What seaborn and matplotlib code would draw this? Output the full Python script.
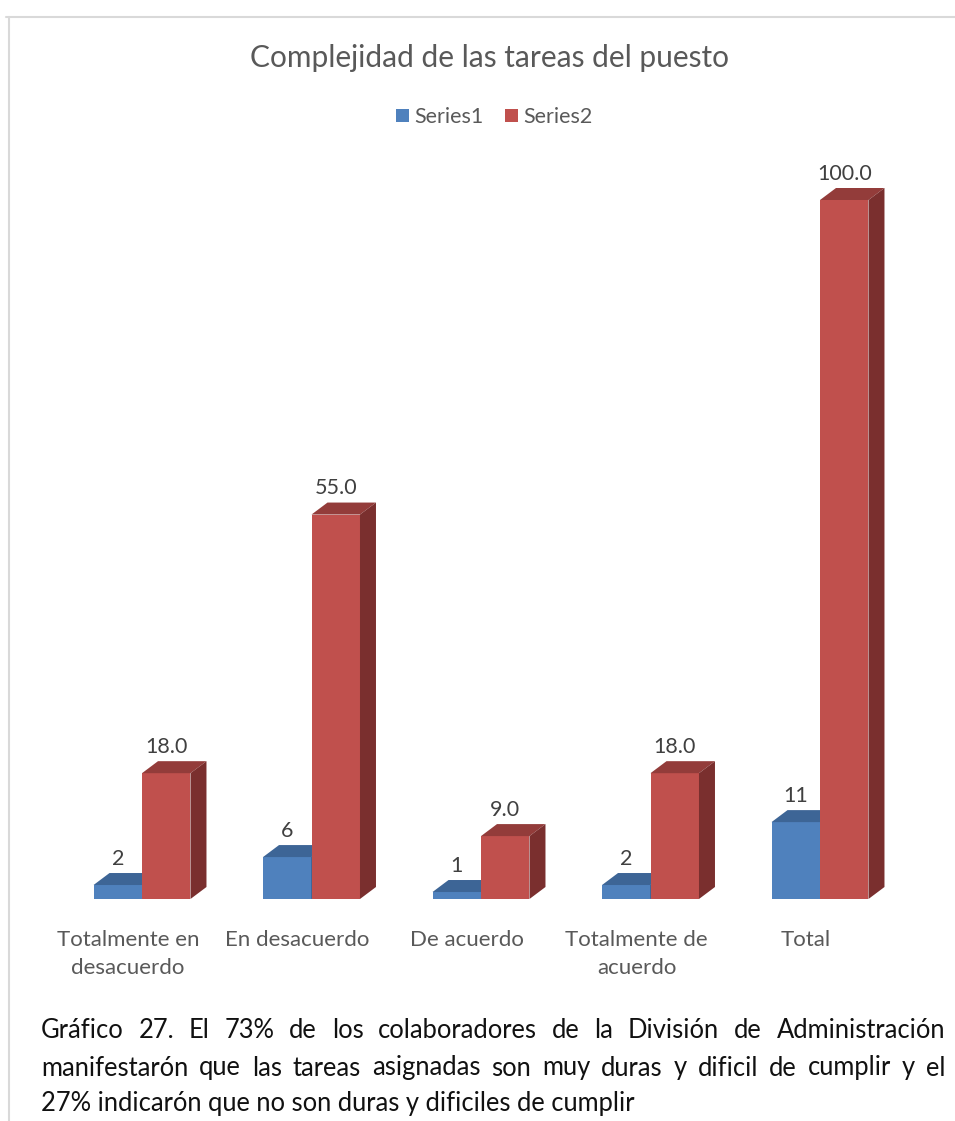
import numpy as np
import pandas as pd
import matplotlib
matplotlib.use("Agg")
import matplotlib.pyplot as plt
import seaborn as sns
from matplotlib.patches import Polygon, Patch
from matplotlib.transforms import ScaledTranslation
from matplotlib.lines import Line2D

# ---- data ----
categories = ["Totalmente en\ndesacuerdo", "En desacuerdo", "De acuerdo",
              "Totalmente de\nacuerdo", "Total"]
series_names = ["Series1", "Series2"]
series1 = [2, 6, 1, 2, 11]
series2 = [18.0, 55.0, 9.0, 18.0, 100.0]
title = "Complejidad de las tareas del puesto"
caption_lines = [
    "Gráfico 27. El 73% de los colaboradores de la División de Administración",
    "manifestarón que las tareas asignadas son muy duras y dificil de cumplir y el",
    "27% indicarón que no son duras y dificiles de cumplir",
]

df = pd.DataFrame({
    "categoria": categories * 2,
    "valor": series1 + series2,
    "serie": [series_names[0]] * len(categories) + [series_names[1]] * len(categories),
})

front = {"Series1": "#4F81BD", "Series2": "#C0504D"}
top_c = {"Series1": "#3D6596", "Series2": "#933C3A"}
side_c = {"Series1": "#2F4F77", "Series2": "#7A2F2E"}

sns.set_theme(style="white")
plt.rcParams["font.family"] = ["Lato", "DejaVu Sans"]

W, H, DPI = 955, 1121, 100
fig = plt.figure(figsize=(W / DPI, H / DPI), dpi=DPI)

# plot area in pixel coordinates
ax_l, ax_r, ax_base, ax_top = 40, 935, 899, 150
ax = fig.add_axes([ax_l / W, (H - ax_base) / H, (ax_r - ax_l) / W, (ax_base - ax_top) / H])

sns.barplot(data=df, x="categoria", y="valor", hue="serie", order=categories,
            hue_order=series_names, palette=[front[s] for s in series_names],
            width=0.572, saturation=1, legend=False, errorbar=None,
            linewidth=0, ax=ax)

# axis scaling: category spacing 169.5 px, 6.99 px per unit
px_per_cat = 169.5
px_per_unit = 6.99
x0 = (ax_l - 142) / px_per_cat
ax.set_xlim(x0, x0 + (ax_r - ax_l) / px_per_cat)
ax.set_ylim(0, (ax_base - ax_top) / px_per_unit)

# depth of the 3D extrusion, in data units
dx = 16 / px_per_cat
dy = 12 / px_per_unit

n = len(categories)
for i, bar in enumerate(ax.patches):
    s = series_names[i // n]
    z = 2 + (i // n)
    bar.set_zorder(z)
    x, w, h = bar.get_x(), bar.get_width(), bar.get_height()
    top = Polygon([(x, h), (x + w, h), (x + w + dx, h + dy), (x + dx, h + dy)],
                  closed=True, facecolor=top_c[s], edgecolor="none", zorder=z + 0.1)
    side = Polygon([(x + w, 0), (x + w + dx, dy), (x + w + dx, h + dy), (x + w, h)],
                   closed=True, facecolor=side_c[s], edgecolor="none", zorder=z + 0.1)
    ax.add_patch(top)
    ax.add_patch(side)
    val = bar.get_height()
    label = f"{val:.0f}" if s == "Series1" else f"{val:.1f}"
    ax.annotate(label, (x + w / 2, h + dy), xytext=(0, 3), textcoords="offset points",
                ha="center", va="bottom", fontsize=15.5, color="#404040", zorder=10)

ax.set_xticks(range(n))
ax.set_xticklabels(categories, fontsize=16, color="#595959", linespacing=1.5)
ax.tick_params(axis="x", length=0, pad=22)
shift = ScaledTranslation(-14 / DPI, 0, fig.dpi_scale_trans)
for lab in ax.get_xticklabels():
    lab.set_transform(lab.get_transform() + shift)
ax.set_yticks([])
ax.set_xlabel("")
ax.set_ylabel("")
for sp in ax.spines.values():
    sp.set_visible(False)
ax.patch.set_alpha(0)

# title and legend
fig.text(489 / W, 1 - 58 / H, title, ha="center", va="center", fontsize=21.5, color="#595959")
handles = [Patch(facecolor=front[s], edgecolor="none", label=s) for s in series_names]
fig.legend(handles=handles, loc="center", bbox_to_anchor=(494 / W, 1 - 117 / H), ncol=2,
           frameon=False, fontsize=15.5, handlelength=0.6, handleheight=0.6,
           handletextpad=0.25, columnspacing=1.0, labelcolor="#595959")

# chart frame (top and left edges)
fig.add_artist(Line2D([6 / W, 1], [1 - 17 / H, 1 - 17 / H], transform=fig.transFigure,
                      color="#D9D9D9", linewidth=1.5))
fig.add_artist(Line2D([9 / W, 9 / W], [0, 1 - 17 / H], transform=fig.transFigure,
                      color="#D9D9D9", linewidth=1.5))

# justified caption below the chart
renderer = fig.canvas.get_renderer()
cap_left, cap_right = 41, 945
cap_y = [1031, 1068, 1104]
cap_size = 18.4
for li, (line, yy) in enumerate(zip(caption_lines, cap_y)):
    words = line.split(" ")
    if li == len(caption_lines) - 1:
        fig.text(cap_left / W, 1 - yy / H, line, ha="left", va="center",
                 fontsize=cap_size, color="#111111")
        continue
    texts = [fig.text(0, 1 - yy / H, wd, ha="left", va="center", fontsize=cap_size,
                      color="#111111") for wd in words]
    widths = [t.get_window_extent(renderer).width for t in texts]
    gap = (cap_right - cap_left - sum(widths)) / (len(words) - 1)
    xpos = cap_left
    for t, wpx in zip(texts, widths):
        t.set_x(xpos / W)
        xpos += wpx + gap

fig.savefig("out.png", dpi=DPI)
